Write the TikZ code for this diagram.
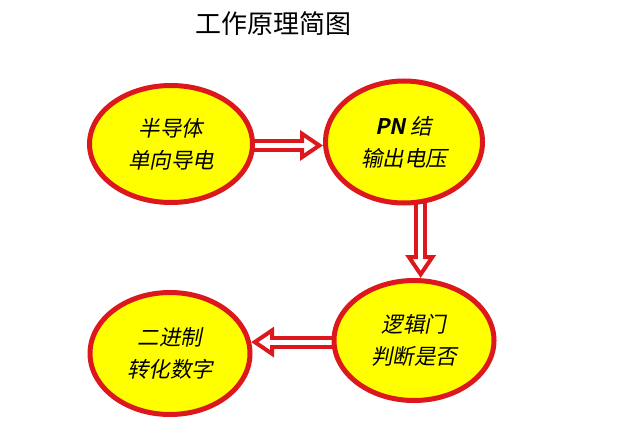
\documentclass[tikz,border=0pt]{standalone}
\usepackage{fontspec}
\usepackage{tikz}
\usetikzlibrary{calc,arrows.meta,positioning,backgrounds,shapes.geometric}
\newfontfamily\cjkfont{Noto Sans CJK SC}
\newfontfamily\cjkslant[FakeSlant=0.2,BoldFont={Noto Sans CJK SC Bold},BoldFeatures={FakeSlant=0.2}]{Noto Sans CJK SC}
\definecolor{flowred}{RGB}{220,24,28}
\definecolor{flowyellow}{RGB}{255,255,0}
\tikzset{
  gstage/.style={ellipse, draw=flowred, fill=flowyellow, line width=5pt,
                 inner sep=0pt, align=center, text=black,
                 font=\cjkslant\fontsize{21.5}{32}\selectfont},
  gflow/.style ={draw=flowred, line width=4pt, double=white, double distance=5pt,
                 -{Triangle[open, length=23pt, width=30pt, fill=white]}},
  gflowgap/.style={white, line width=5pt, shorten >=12pt},
  gtitle/.style={font=\cjkfont\fontsize{26}{30}\selectfont},
}

\begin{document}
\begin{tikzpicture}[x=1pt, y=1pt]
  \useasboundingbox (0,0) rectangle (639,432);
  \node[gtitle] (title) at (273,408) {工作原理简图};
  \node[gstage, minimum width=163pt, minimum height=117pt] (semi)  at (171,288) {半导体\\单向导电};
  \node[gstage, minimum width=157pt, minimum height=122pt] (pn)    at (404,290) {{\bfseries PN} 结\\输出电压};
  \node[gstage, minimum width=160pt, minimum height=120pt] (logic) at (414,91.5) {逻辑门\\判断是否};
  \node[gstage, minimum width=160pt, minimum height=122pt] (digit) at (170,78.5) {二进制\\转化数字};
  \begin{scope}[on background layer]
    % double shaft with open head, then clear the head's back edge
    \draw[gflow] (semi.center |- semi.-1) -- (semi.-1 -| pn.west);
    \draw[gflow] (pn.-75 |- pn.center) -- (pn.-75 |- logic.north);
    \draw[gflow] (logic.center |- digit.8) -- (digit.8);
    \draw[gflowgap] (semi.center |- semi.-1) -- (semi.-1 -| pn.west);
    \draw[gflowgap] (pn.-75 |- pn.center) -- (pn.-75 |- logic.north);
    \draw[gflowgap] (logic.center |- digit.8) -- (digit.8);
  \end{scope}
\end{tikzpicture}
\end{document}
